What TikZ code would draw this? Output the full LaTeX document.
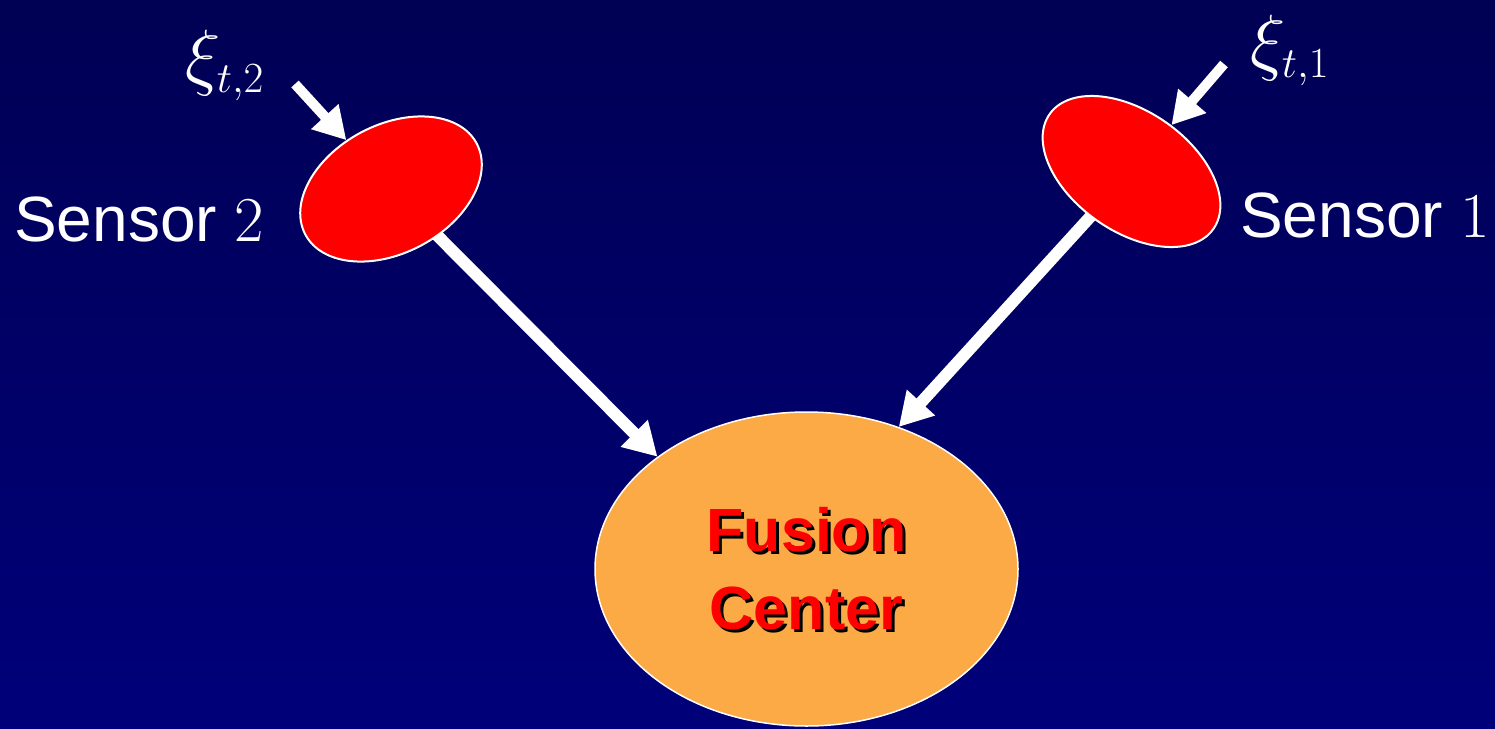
\RequirePackage{fix-cm}
\documentclass[tikz,border=0pt]{standalone}
\usepackage{fontspec}
\newfontfamily\arial{Liberation Sans}
\DeclareMathSizes{64}{64}{45}{32}
\DeclareMathSizes{74}{74}{43}{32}
\usetikzlibrary{shapes.geometric,arrows.meta}
\pgfdeclarelayer{backdrop}
\pgfdeclarelayer{links}
\pgfsetlayers{backdrop,links,main}
\definecolor{navytop}{RGB}{0,0,84}
\definecolor{navybot}{RGB}{0,0,122}
\definecolor{fusionfill}{RGB}{251,170,70}
\definecolor{sensorfill}{RGB}{255,0,0}
\tikzset{
  sensor/.style={ellipse, draw=white, line width=2pt, fill=sensorfill, inner sep=0pt},
  center/.style={ellipse, draw=white, line width=1.5pt, fill=fusionfill, inner sep=0pt,
    minimum width=423pt, minimum height=314pt},
  link/.style={white, line width=12pt, -{Triangle[length=33pt,width=36pt]}},
  feed/.style={white, line width=10pt, -{Triangle[length=32pt,width=35pt]}},
  lbl/.style={text=white, inner sep=0pt, anchor=base west},
  fctext/.style={inner sep=0pt, align=center,
    font=\arial\bfseries\fontsize{61}{78}\selectfont},
}
\begin{document}
\begin{tikzpicture}[x=1pt, y=-1pt]
  % backdrop
  \begin{pgfonlayer}{backdrop}
    \shade[top color=navytop, bottom color=navybot] (0,0) rectangle (1495,728);
  \end{pgfonlayer}
  \useasboundingbox (0,0) rectangle (1495,728);

  % sensors and fusion center
  \node[sensor, minimum width=194pt, minimum height=128pt, rotate=28] (s2) at (391,189) {};
  \node[sensor, minimum width=200pt, minimum height=120pt, rotate=-35] (s1) at (1131.5,171.5) {};
  \node[center] (fc) at (806.5,569) {};
  \node[fctext, text=black] (fcshade) at ([shift={(3,3)}]fc.center) {Fusion\\Center};
  \node[fctext, text=sensorfill] (fctext) at (fc.center) {Fusion\\Center};

  % labels
  \node[lbl, font=\arial\fontsize{64}{70}\selectfont] (l2) at (14,241) {Sensor $2$};
  \node[lbl, font=\arial\fontsize{64}{70}\selectfont] (l1) at (1240,237) {Sensor $1$};
  \node[lbl, font=\fontsize{74}{84}\selectfont] (x2) at (185,81) {$\xi_{t,2}$};
  \node[lbl, font=\fontsize{74}{84}\selectfont] (x1) at (1250,66) {$\xi_{t,1}$};

  % connectors
  \coordinate (x2tail) at (295,84);
  \coordinate (x1tail) at (1224,64);
  \begin{pgfonlayer}{links}
    \draw[feed] (x2tail) -- (s2);
    \draw[feed] (x1tail) -- (s1);
    \draw[link] (s2.center) -- (fc.143.5);
    \draw[link] (s1.center) -- (fc.57);
  \end{pgfonlayer}
\end{tikzpicture}
\end{document}
